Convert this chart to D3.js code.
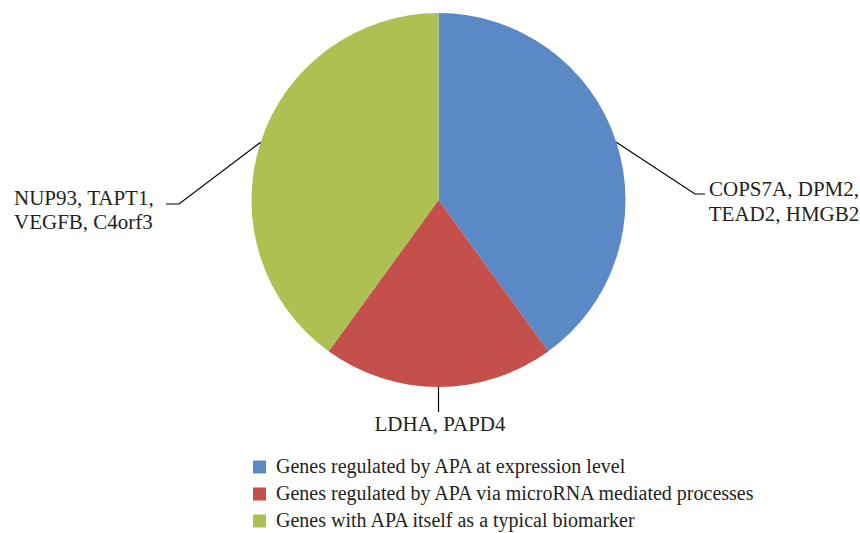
<!DOCTYPE html>
<html>
<head>
<meta charset="utf-8">
<script src="https://cdn.jsdelivr.net/npm/d3@7/dist/d3.min.js"></script>
<style>
  html, body { margin: 0; padding: 0; background: #ffffff; }
  svg { display: block; }
  text { font-family: "Liberation Serif", "Times New Roman", serif; fill: #231f20; }
</style>
</head>
<body>
<svg id="chart" width="860" height="533"></svg>
<script>
// Categories of APA-related genes and the number of genes in each
const categories = [
  "Genes regulated by APA at expression level",
  "Genes regulated by APA via microRNA mediated processes",
  "Genes with APA itself as a typical biomarker"
];
const geneCounts = [4, 2, 4];
const geneLabels = [
  ["COPS7A, DPM2,", "TEAD2, HMGB2"],
  ["LDHA, PAPD4"],
  ["NUP93, TAPT1,", "VEGFB, C4orf3"]
];
const colors = ["#5b89c6", "#c5504b", "#adc152"];

const svg = d3.select("#chart");
const cx = 438.5, cy = 200, radius = 187;
const labelFont = 21, legendFont = 20;

const pie = d3.pie().sort(null).value(d => d)(geneCounts);
const arc = d3.arc().innerRadius(0).outerRadius(radius);

const g = svg.append("g").attr("transform", `translate(${cx},${cy})`);

g.selectAll("path.slice")
  .data(pie)
  .join("path")
  .attr("class", "slice")
  .attr("d", arc)
  .attr("fill", (d, i) => colors[i]);

// Leader lines start on the rim at each slice's mid-angle
const rimPoint = d => {
  const a = (d.startAngle + d.endAngle) / 2;
  return [cx + radius * Math.sin(a), cy - radius * Math.cos(a)];
};

// Label layout (page coordinates): leader path after the rim point, text position and alignment
const labelLayout = [
  { path: [[695, 194], [705, 194]], x: 784, baselines: [196, 221], anchor: "middle" },
  { path: [[438.5, 412]],           x: 440, baselines: [431],      anchor: "middle" },
  { path: [[179, 204], [166, 204]], x: 14,  baselines: [205, 229], anchor: "start" }
];

pie.forEach((d, i) => {
  const L = labelLayout[i];
  svg.append("path")
    .attr("d", d3.line()([rimPoint(d), ...L.path]))
    .attr("fill", "none")
    .attr("stroke", "#000")
    .attr("stroke-width", 1.2);

  const t = svg.append("text")
    .attr("font-size", labelFont)
    .attr("text-anchor", L.anchor);
  geneLabels[i].forEach((ln, j) => {
    t.append("tspan")
      .attr("x", L.x)
      .attr("y", L.baselines[j])
      .text(ln);
  });
});

// Legend
const legend = svg.append("g");
const legendY0 = 467, legendStep = 27;
categories.forEach((c, i) => {
  const y = legendY0 + i * legendStep;
  legend.append("rect")
    .attr("x", 253).attr("y", y - 6.5)
    .attr("width", 13).attr("height", 13)
    .attr("fill", colors[i]);
  legend.append("text")
    .attr("x", 276).attr("y", y + 6)
    .attr("font-size", legendFont)
    .text(c);
});
</script>
</body>
</html>
